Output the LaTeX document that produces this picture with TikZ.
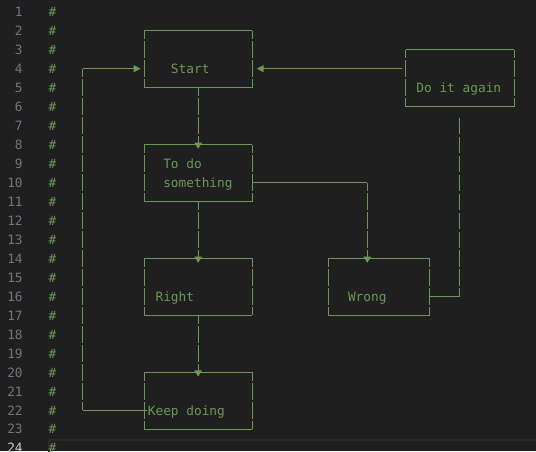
\documentclass[tikz,border=0pt]{standalone}
\usepackage{fontspec}
\setmonofont{DejaVu Sans Mono}
\usetikzlibrary{arrows.meta}
\definecolor{bg}{HTML}{1F1F1F}
\definecolor{cmt}{HTML}{6A9955}
\definecolor{lnum}{HTML}{6E7681}
\definecolor{lnact}{HTML}{CCCCCC}
\definecolor{lhb}{HTML}{2A2A2A}
\begin{document}
\begin{tikzpicture}[x=1pt,y=-18.98pt,
  every node/.style={font=\ttfamily\fontsize{12.8pt}{15pt}\selectfont, inner sep=0pt, outer sep=0pt},
  boxnode/.style={rectangle, minimum height=56.94pt, minimum width=108.3pt},
  hl/.style={color=cmt, line width=1pt},
  vl/.style={color=cmt, line width=1pt, dash pattern=on 16.48pt off 2.5pt, dash phase=8.24pt},
  lbl/.style={text=cmt, anchor=base west, yshift=-4.7pt},
  lnumstyle/.style={text=lnum, anchor=base east, yshift=-4.7pt},
  hashstyle/.style={text=cmt, anchor=base, yshift=-4.7pt},
  darr/.style={-{Triangle[length=6pt,width=7.5pt]}},
  harr/.style={-{Triangle[length=7pt,width=7pt]}}]
\fill[bg] (0pt,0pt) rectangle (536pt,-451pt);
\useasboundingbox (0pt,0pt) rectangle (536pt,-451pt);
\draw[lhb, line width=2pt] (49.3pt,-439.8pt) rectangle (545pt,-475pt);
\begin{scope}[yshift=7.26pt]
  % gutter
  \foreach \k in {1,...,23} {
    \node[lnumstyle] (n\k) at (22.7,\k) {\k};
  }
  \node[lnumstyle, text=lnact] (n24) at (22.7,24) {24};
  \foreach \k in {1,...,24} {
    \node[hashstyle] (h\k) at (52.6,\k) {\#};
  }
  % boxes
  \node[boxnode] (start) at (198.15,3.5) {};
  \node[boxnode] (again) at (459.85,4.5) {};
  \node[boxnode] (todo) at (198.15,9.5) {};
  \node[boxnode] (rightbox) at (198.15,15.5) {};
  \node[boxnode, minimum width=101.4pt] (wrong) at (379,15.5) {};
  \node[boxnode] (keep) at (198.15,21.5) {};
  \foreach \b in {start,again,todo,rightbox,wrong,keep} {
    \draw[hl] (\b.north west) -- (\b.north east) (\b.south west) -- (\b.south east);
    \draw[vl] (\b.north west) -- (\b.south west) (\b.north east) -- (\b.south east);
  }
  % labels
  \node[lbl] (tStart) at (170.95,4) {Start};
  \node[lbl] (tAgain) at (416.4,5) {Do it again};
  \node[lbl] (tTodoA) at (163.25,9) {To do};
  \node[lbl] (tTodoB) at (163.25,10) {something};
  \node[lbl] (tRight) at (155.55,16) {Right};
  \node[lbl] (tWrong) at (348,16) {Wrong};
  \node[lbl] (tKeep) at (147.85,22) {Keep doing};
  % helper coordinates
  \coordinate (r4) at (0,4);
  \coordinate (r10) at (0,10);
  \coordinate (r16) at (0,16);
  \coordinate (r22) at (0,22);
  \coordinate (cLa) at (82.7,4);
  \coordinate (cLb) at (82.7,22);
  \coordinate (cW) at (367.3,10);
  \coordinate (cWt) at (cW |- wrong.north);
  \coordinate (cA) at (again.south |- r16);
  \coordinate (aS) at (start.east |- r4);
  \coordinate (aA) at (again.west |- r4);
  \coordinate (sW) at (start.west |- r4);
  \coordinate (kW) at (keep.west |- r22);
  \coordinate (tE) at (todo.east |- r10);
  \coordinate (wE) at (wrong.east |- r16);
  % connectors
  \draw[vl, darr] (start.south) -- ([yshift=-4.1pt]todo.north);
  \draw[vl, darr] (todo.south) -- ([yshift=-4.1pt]rightbox.north);
  \draw[vl, darr] (rightbox.south) -- ([yshift=-4.1pt]keep.north);
  \draw[hl] (tE) -- (cW);
  \draw[vl, darr] (cW) -- ([yshift=-4.2pt]cWt);
  \draw[hl, harr] ([xshift=-3.4pt]aA) -- ([xshift=4.4pt]aS);
  \draw[hl] (wE) -- (cA);
  \draw[vl, dash phase=0pt] ([yshift=-11pt]again.south) -- (cA);
  \draw[hl] ([xshift=2.7pt]kW) -- (cLb);
  \draw[vl] (cLa) -- (cLb);
  \draw[hl, harr] (cLa) -- ([xshift=-3.3pt]sW);
\end{scope}
\end{tikzpicture}
\end{document}
